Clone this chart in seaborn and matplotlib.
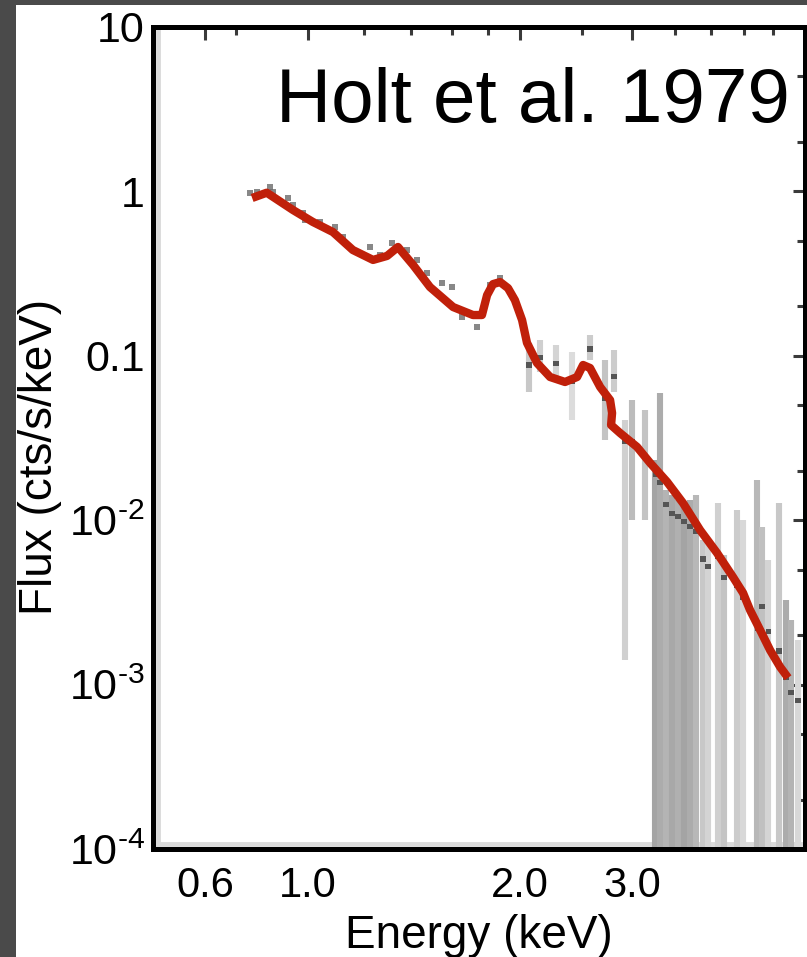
import numpy as np
import pandas as pd
import matplotlib
matplotlib.use("Agg")
import matplotlib.pyplot as plt
import seaborn as sns
from matplotlib.ticker import LogLocator, NullFormatter
from matplotlib.patches import Rectangle
from matplotlib.lines import Line2D

# ---------------------------------------------------------------- data
# best-fit model spectrum (keV, cts/s/keV)
model_energy = [0.758, 0.815, 0.928, 1.016, 1.085, 1.158, 1.237, 1.295, 1.342, 1.410,
                1.490, 1.607, 1.715, 1.766, 1.796, 1.831, 1.874, 1.923, 1.967, 2.015,
                2.051, 2.127, 2.230, 2.354, 2.459, 2.513, 2.577, 2.673, 2.771, 2.791,
                2.781, 2.873, 3.055, 3.203, 3.406, 3.609, 3.838, 4.082, 4.324, 4.484,
                4.599, 4.769, 4.945, 5.128, 5.278]
model_flux = [0.912, 0.982, 0.771, 0.652, 0.566, 0.440, 0.383, 0.405, 0.459, 0.357,
              0.262, 0.198, 0.177, 0.177, 0.234, 0.273, 0.281, 0.258, 0.218, 0.165,
              0.120, 0.0904, 0.0743, 0.0693, 0.0743, 0.0879, 0.0843, 0.0646, 0.0538, 0.0449,
              0.0379, 0.0339, 0.0279, 0.0223, 0.0171, 0.0127, 0.00871, 0.00631, 0.00451, 0.00361,
              0.00284, 0.00215, 0.00162, 0.00128, 0.00110]

# well-measured channels below ~2 keV
bin_energy = [0.750, 0.777, 0.828, 0.841, 0.906, 0.928, 0.975, 0.985, 1.040, 1.092,
              1.121, 1.158, 1.225, 1.265, 1.316, 1.382, 1.428, 1.476, 1.550, 1.601,
              1.654, 1.738, 1.814, 1.874, 1.936]
bin_rate = [0.978, 0.992, 1.064, 0.992, 0.912, 0.827, 0.739, 0.670, 0.652, 0.607,
            0.528, 0.440, 0.459, 0.410, 0.486, 0.440, 0.383, 0.319, 0.277, 0.262,
            0.172, 0.150, 0.270, 0.297, 0.244]

# noisy channels above ~2 keV (rate with upper / lower bounds; 1e-5 = consistent with zero)
chan_energy = [2.066, 2.150, 2.279, 2.414, 2.577, 2.721, 2.811, 2.925, 3.000, 3.146,
               3.262, 3.320, 3.393, 3.467, 3.543, 3.622, 3.701, 3.782, 3.879, 3.950,
               4.096, 4.186, 4.388, 4.484, 4.718, 4.804, 4.910, 5.108, 5.239, 5.334,
               5.471]
chan_rate = [0.0879, 0.098, 0.090, 0.070, 0.110, 0.055, 0.075, 0.030, 0.030, 0.024,
             0.019, 0.017, 0.0125, 0.011, 0.0105, 0.0098, 0.0092, 0.0085, 0.0058, 0.0052,
             0.0060, 0.0045, 0.0040, 0.0034, 0.0022, 0.0030, 0.0021, 0.0016, 0.0011, 0.0009,
             0.0008]
chan_upper = [0.1197, 0.1248, 0.1163, 0.1055, 0.1338, 0.0943, 0.1084, 0.0407, 0.0538, 0.0468,
              0.0232, 0.0594, 0.0153, 0.01422, 0.01327, 0.01237, 0.01327, 0.01422, 0.00758, 0.00758,
              0.01273, 0.00614, 0.01154, 0.01003, 0.01757, 0.00910, 0.00573, 0.01273, 0.00327, 0.00247,
              0.00187]
chan_lower = [0.0602, 0.0797, 0.0712, 0.0407, 0.0943, 0.0307, 0.0602, 0.00141, 0.01003, 0.0100,
              1e-5, 1e-5, 1e-5, 1e-5, 1e-5, 1e-5, 1e-5, 1e-5, 1e-5, 1e-5,
              1e-5, 1e-5, 1e-5, 1e-5, 1e-5, 1e-5, 1e-5, 1e-5, 1e-5, 1e-5,
              1e-5]

energy_ticks = [0.6, 1.0, 2.0, 3.0]
energy_tick_text = ["0.6", "1.0", "2.0", "3.0"]
energy_minor = [0.7, 1.2, 1.4, 1.6, 1.8, 2.5, 3.5, 4.0, 4.5, 5.0]
flux_ticks = [1e-4, 1e-3, 1e-2, 0.1, 1, 10]
flux_tick_text = [r"10$^{\text{-}4}$", r"10$^{\text{-}3}$", r"10$^{\text{-}2}$",
                  "0.1", "1", "10"]

# ---------------------------------------------------------------- style
column_grey = ["#c8c8c8", "#cfcfcf", "#d4d4d4", "#dcdcdc", "#cccccc", "#c4c4c4", "#cccccc",
               "#d0d0d0", "#bcbcbc", "#c4c4c4",
               "#a4a4a4", "#acacac", "#b4b4b4", "#a8a8a8", "#b0b0b0", "#a4a4a4", "#acacac",
               "#b8b8b8", "#c8c8c8", "#d4d4d4", "#d0d0d0", "#c4c4c4", "#cccccc", "#d8d8d8",
               "#b8b8b8", "#c0c0c0", "#d4d4d4", "#c8c8c8", "#acacac", "#b4b4b4", "#d8d8d8"]

sns.set_style("white")
plt.rcParams["font.family"] = ["Liberation Sans", "DejaVu Sans"]
plt.rcParams["text.color"] = "black"
plt.rcParams["axes.labelcolor"] = "black"
plt.rcParams["mathtext.fontset"] = "custom"
plt.rcParams["mathtext.rm"] = "Liberation Sans"
plt.rcParams["mathtext.it"] = "Liberation Sans:italic"
plt.rcParams["mathtext.bf"] = "Liberation Sans:bold"

# energy axis: piecewise-logarithmic between the labelled energies
label_frac = np.array([0.0798, 0.2377, 0.5629, 0.7347])
_lk = np.log10(energy_ticks)


def to_axis(e):
    le = np.log10(np.maximum(np.asarray(e, dtype=float), 1e-9))
    mid = np.interp(le, _lk, label_frac)
    lo = label_frac[0] + (le - _lk[0]) * (label_frac[1] - label_frac[0]) / (_lk[1] - _lk[0])
    hi = label_frac[-1] + (le - _lk[-1]) * (label_frac[-1] - label_frac[-2]) / (_lk[-1] - _lk[-2])
    return np.where(le < _lk[0], lo, np.where(le > _lk[-1], hi, mid))


def from_axis(u):
    u = np.asarray(u, dtype=float)
    mid = np.interp(u, label_frac, _lk)
    lo = _lk[0] + (u - label_frac[0]) * (_lk[1] - _lk[0]) / (label_frac[1] - label_frac[0])
    hi = _lk[-1] + (u - label_frac[-1]) * (_lk[-1] - _lk[-2]) / (label_frac[-1] - label_frac[-2])
    return 10 ** np.where(u < label_frac[0], lo, np.where(u > label_frac[-1], hi, mid))


fig = plt.figure(figsize=(8.07, 9.57), dpi=100)
fig.patch.set_facecolor("white")
ax = fig.add_axes([153 / 807, 108 / 957, 652 / 807, 822 / 957])

ax.set_xscale("function", functions=(to_axis, from_axis))
ax.set_yscale("log")
ax.set_xlim(float(from_axis(0.0)), float(from_axis(1.0)))
ax.set_ylim(1e-4, 10)

# error columns of the noisy channels
ax.vlines(chan_energy, chan_lower, chan_upper, colors=column_grey, linewidth=4.4, zorder=1)
chan_df = pd.DataFrame({"energy": chan_energy, "rate": chan_rate})
sns.scatterplot(data=chan_df, x="energy", y="rate", ax=ax, marker="s", s=14,
                color="#555555", edgecolor="none", zorder=2)

# well-measured channels
bin_df = pd.DataFrame({"energy": bin_energy, "rate": bin_rate})
sns.scatterplot(data=bin_df, x="energy", y="rate", ax=ax, marker="s", s=22,
                color="#6a6a6a", alpha=0.8, edgecolor="none", zorder=2)

# model
model_df = pd.DataFrame({"energy": model_energy, "flux": model_flux})
sns.lineplot(data=model_df, x="energy", y="flux", ax=ax, sort=False, color="#c0200a",
             linewidth=6.0, solid_joinstyle="round", solid_capstyle="butt", zorder=3)

# ticks
ax.set_xticks(energy_ticks, labels=energy_tick_text)
ax.set_xticks(energy_minor, minor=True)
ax.xaxis.set_minor_formatter(NullFormatter())
ax.set_yticks(flux_ticks, labels=flux_tick_text)
ax.yaxis.set_minor_locator(LogLocator(base=10, subs=(2.0, 5.0)))
ax.yaxis.set_minor_formatter(NullFormatter())
ax.tick_params(which="both", direction="in", top=True, right=True, color="#3a3a3a",
               width=2.2, labelcolor="black")
ax.tick_params(which="major", length=9)
ax.tick_params(which="minor", length=6)
ax.tick_params(axis="y", which="major", labelsize=31, pad=6)
ax.tick_params(axis="x", which="major", labelsize=30, pad=12)

for sp in ax.spines.values():
    sp.set_visible(True)
    sp.set_color("black")
    sp.set_linewidth(3.6)

# faint scan band just inside the left and bottom frame
ax.add_line(Line2D([0.008, 0.008], [0, 1], transform=ax.transAxes, color="#dadada",
                   linewidth=3.5, zorder=0.5))
ax.add_line(Line2D([0, 1], [0.006, 0.006], transform=ax.transAxes, color="#dadada",
                   linewidth=3.5, zorder=0.5))

ax.set_xlabel("Energy (keV)", fontsize=33, color="black")
ax.xaxis.set_label_coords(0.50, -0.106)
ax.xaxis.label.set_va("center")
ax.set_ylabel("Flux (cts/s/keV)", fontsize=33, color="black")
ax.yaxis.set_label_coords(-0.173, 0.477)
ax.yaxis.label.set_va("center")

ax.text(0.977, 0.884, "Holt et al. 1979", transform=ax.transAxes, ha="right",
        va="baseline", fontsize=55, color="black", zorder=5)

# dark slide margin
fig.add_artist(Rectangle((0, 0), 16 / 807, 1, transform=fig.transFigure,
                         facecolor="#4a4a4a", edgecolor="none", zorder=-1))
fig.add_artist(Rectangle((0, 1 - 5 / 957), 1, 5 / 957, transform=fig.transFigure,
                         facecolor="#4a4a4a", edgecolor="none", zorder=-1))

fig.savefig("out.png", dpi=100, facecolor="white")
